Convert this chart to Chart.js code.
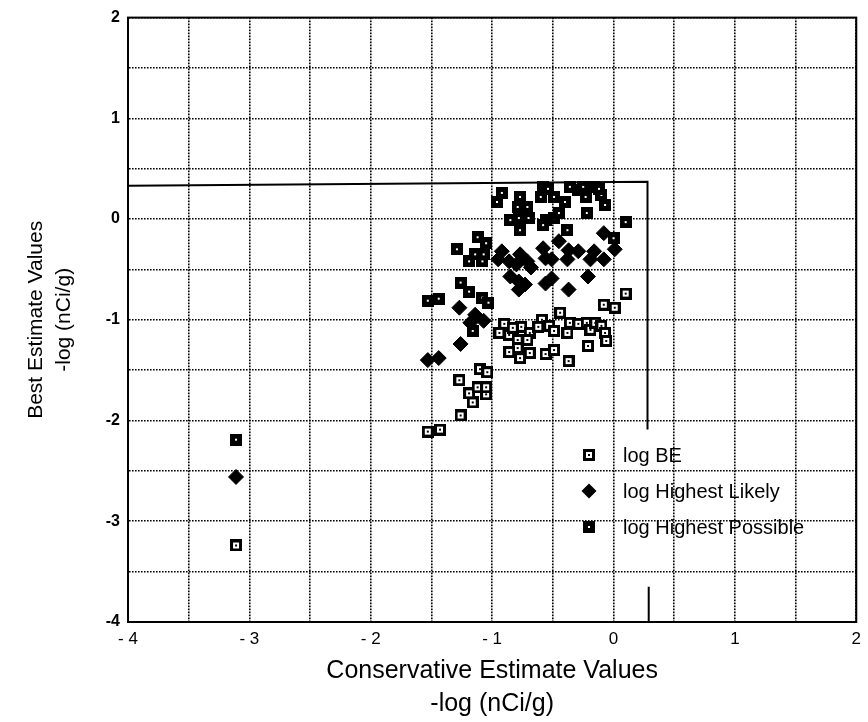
<!DOCTYPE html>
<html>
<head>
<meta charset="utf-8">
<script src="https://cdn.jsdelivr.net/npm/chart.js@4.4.1/dist/chart.umd.min.js"></script>
<style>
  html, body { margin: 0; padding: 0; background: #fff; }
  #wrap { width: 868px; height: 722px; position: relative; }
</style>
</head>
<body>
<div id="wrap"><canvas id="chart"></canvas></div>
<script>
// data
var beX = [-3.11, -1.53, -1.43, -1.26, -1.16, -1.19, -1.05, -1.12, -1.05, -1.27, -1.10, -1.04, -0.90, -0.94, -0.86, -0.76, -0.69, -0.79, -0.71, -0.79, -0.86, -0.69, -0.77, -0.59, -0.53, -0.49, -0.56, -0.49, -0.44, -0.36, -0.38, -0.29, -0.22, -0.19, -0.15, -0.10, -0.07, -0.06, -0.21, -0.37, -0.08, 0.01, 0.10, -0.83, -0.62];
var beY = [-3.24, -2.11, -2.09, -1.95, -1.82, -1.73, -1.74, -1.67, -1.67, -1.60, -1.49, -1.52, -1.04, -1.13, -1.15, -1.07, -1.13, -1.20, -1.20, -1.28, -1.32, -1.33, -1.38, -1.00, -1.06, -1.11, -1.34, -1.30, -0.93, -1.03, -1.13, -1.04, -1.03, -1.10, -1.03, -1.06, -1.13, -1.21, -1.26, -1.41, -0.85, -0.88, -0.74, -1.08, -1.07];

var hlX = [-3.11, -1.53, -1.44, -1.26, -1.27, -1.14, -1.07, -1.18, -0.92, -0.77, -0.71, -0.58, -0.56, -0.51, -0.37, -0.29, -0.16, -0.38, -0.19, -0.08, -0.86, -0.95, -0.08, -0.45, -0.85, -0.78, -0.73, -0.78, -0.56, -0.51, -0.37, -0.21, 0.01, -0.80, -0.68];
var hlY = [-2.56, -1.40, -1.38, -1.24, -0.88, -0.95, -1.01, -1.03, -0.32, -0.35, -0.42, -0.29, -0.39, -0.40, -0.31, -0.32, -0.32, -0.40, -0.40, -0.40, -0.42, -0.40, -0.14, -0.22, -0.57, -0.62, -0.65, -0.70, -0.64, -0.59, -0.70, -0.57, -0.30, -0.45, -0.48];

var hpX = [-3.11, -1.53, -1.44, -1.29, -1.26, -1.19, -1.19, -1.14, -1.12, -1.05, -1.08, -1.07, -1.08, -1.03, -1.16, -0.92, -0.96, -0.77, -0.79, -0.71, -0.85, -0.78, -0.70, -0.77, -0.58, -0.60, -0.49, -0.56, -0.49, -0.58, -0.45, -0.40, -0.36, -0.29, -0.23, -0.16, -0.10, -0.07, -0.22, -0.38, 0.10, 0.00, -0.54, -0.25, -0.12];
var hpY = [-2.19, -0.81, -0.79, -0.30, -0.63, -0.72, -0.42, -0.35, -0.18, -0.24, -0.42, -0.35, -0.78, -0.83, -1.11, 0.26, 0.17, 0.22, 0.12, 0.12, -0.01, 0.01, 0.01, -0.11, 0.32, 0.22, 0.22, -0.01, 0.01, -0.06, 0.06, 0.17, 0.32, 0.29, 0.22, 0.32, 0.24, 0.14, 0.06, -0.11, -0.03, -0.19, 0.30, 0.32, 0.30];

// the bracket line and the small tick near the bottom
var boxX = [-4, 0.28, 0.28];
var boxY = [0.33, 0.37, -2.09];
var stubX = [0.29, 0.29];
var stubY = [-3.65, -4];

var seriesNames = ['log BE', 'log Highest Likely', 'log Highest Possible'];

function toPoints(xs, ys) {
    return xs.map(function (x, i) { return { x: x, y: ys[i] }; });
}

// marker images
function makeMarker(hollow) {
    var c = document.createElement('canvas');
    c.width = 12;
    c.height = 12;
    var g = c.getContext('2d');
    g.fillStyle = '#000';
    g.fillRect(0, 0, 12, 12);
    g.fillStyle = '#fff';
    if (hollow) {
        g.fillRect(3, 3, 6, 6);
        g.fillStyle = '#000';
        g.fillRect(5, 5, 2, 2);
    } else {
        g.fillRect(5, 5, 2, 2);
    }
    return c;
}
var beMark = makeMarker(true);
var hpMark = makeMarker(false);

var FONT = '"Liberation Sans", Arial, Helvetica, sans-serif';
Chart.defaults.font.family = FONT;
Chart.defaults.color = '#000';

// frame round the plot and the legend inside it
var framePlugin = {
    id: 'frame',
    beforeDatasetsDraw: function (chart) {
        var a = chart.chartArea, ctx = chart.ctx;
        ctx.save();
        ctx.strokeStyle = '#000';
        ctx.lineWidth = 2;
        ctx.strokeRect(a.left, a.top, a.right - a.left, a.bottom - a.top);
        ctx.restore();
    },
    afterDatasetsDraw: function (chart) {
        var ctx = chart.ctx;
        var mx = 589, ty = 455, step = 36, tx = 623;
        ctx.save();
        ctx.fillStyle = '#000';
        ctx.font = '20px ' + FONT;
        ctx.textBaseline = 'middle';
        ctx.textAlign = 'left';
        for (var i = 0; i < 3; i++) {
            var y = ty + i * step;
            if (i == 0) ctx.drawImage(beMark, mx - 6, y - 6);
            if (i == 2) ctx.drawImage(hpMark, mx - 6, y - 6);
            if (i == 1) {
                ctx.beginPath();
                ctx.moveTo(mx, y - 7.5);
                ctx.lineTo(mx + 7.5, y);
                ctx.lineTo(mx, y + 7.5);
                ctx.lineTo(mx - 7.5, y);
                ctx.closePath();
                ctx.fill();
            }
            ctx.fillText(seriesNames[i], tx, y + 1);
        }
        ctx.restore();
    }
};

function axisTick(v, withSpace) {
    if (!Number.isInteger(v)) return '';
    if (v < 0 && withSpace) return '- ' + Math.abs(v);
    return String(v);
}

new Chart(document.getElementById('chart'), {
    type: 'scatter',
    data: {
        datasets: [{
            label: 'box',
            data: toPoints(boxX, boxY),
            showLine: true,
            borderColor: '#000',
            borderWidth: 2,
            pointRadius: 0,
            fill: false
        }, {
            label: 'stub',
            data: toPoints(stubX, stubY),
            showLine: true,
            borderColor: '#000',
            borderWidth: 2,
            pointRadius: 0,
            fill: false
        }, {
            label: seriesNames[0],
            data: toPoints(beX, beY),
            pointStyle: beMark,
            pointRadius: 6
        }, {
            label: seriesNames[1],
            data: toPoints(hlX, hlY),
            pointStyle: 'rectRot',
            pointRadius: 7.5,
            backgroundColor: '#000',
            borderColor: '#000',
            borderWidth: 1
        }, {
            label: seriesNames[2],
            data: toPoints(hpX, hpY),
            pointStyle: hpMark,
            pointRadius: 6
        }]
    },
    options: {
        responsive: true,
        maintainAspectRatio: false,
        animation: false,
        layout: { padding: { top: 15, right: 10, left: 0, bottom: 0 } },
        plugins: {
            legend: { display: false },
            tooltip: { enabled: false }
        },
        scales: {
            x: {
                type: 'linear',
                min: -4,
                max: 2,
                ticks: {
                    stepSize: 0.5,
                    autoSkip: false,
                    maxRotation: 0,
                    padding: 7,
                    color: '#000',
                    font: { size: 17 },
                    callback: function (v) { return axisTick(v, true); }
                },
                grid: { color: '#000', lineWidth: 1.6, drawTicks: false },
                border: { color: '#000', width: 2, dash: [1.6, 1.4] },
                title: {
                    display: true,
                    text: ['Conservative Estimate Values', '-log (nCi/g)'],
                    color: '#000',
                    font: { size: 25, lineHeight: 1.3 },
                    padding: { top: 0, bottom: 2 }
                },
                afterFit: function (s) { s.height = 100; }
            },
            y: {
                type: 'linear',
                min: -4,
                max: 2,
                ticks: {
                    stepSize: 0.5,
                    autoSkip: false,
                    padding: 8,
                    color: '#000',
                    font: { size: 16, weight: 'bold' },
                    callback: function (v) { return axisTick(v, false); }
                },
                grid: { color: '#000', lineWidth: 1.6, drawTicks: false },
                border: { color: '#000', width: 2, dash: [1.6, 1.4] },
                title: {
                    display: true,
                    text: ['Best Estimate Values', '-log (nCi/g)'],
                    color: '#000',
                    font: { size: 21, lineHeight: 1.35 },
                    padding: { top: 22, bottom: 0 }
                },
                afterFit: function (s) { s.width = 128; }
            }
        }
    },
    plugins: [framePlugin]
});
</script>
</body>
</html>
